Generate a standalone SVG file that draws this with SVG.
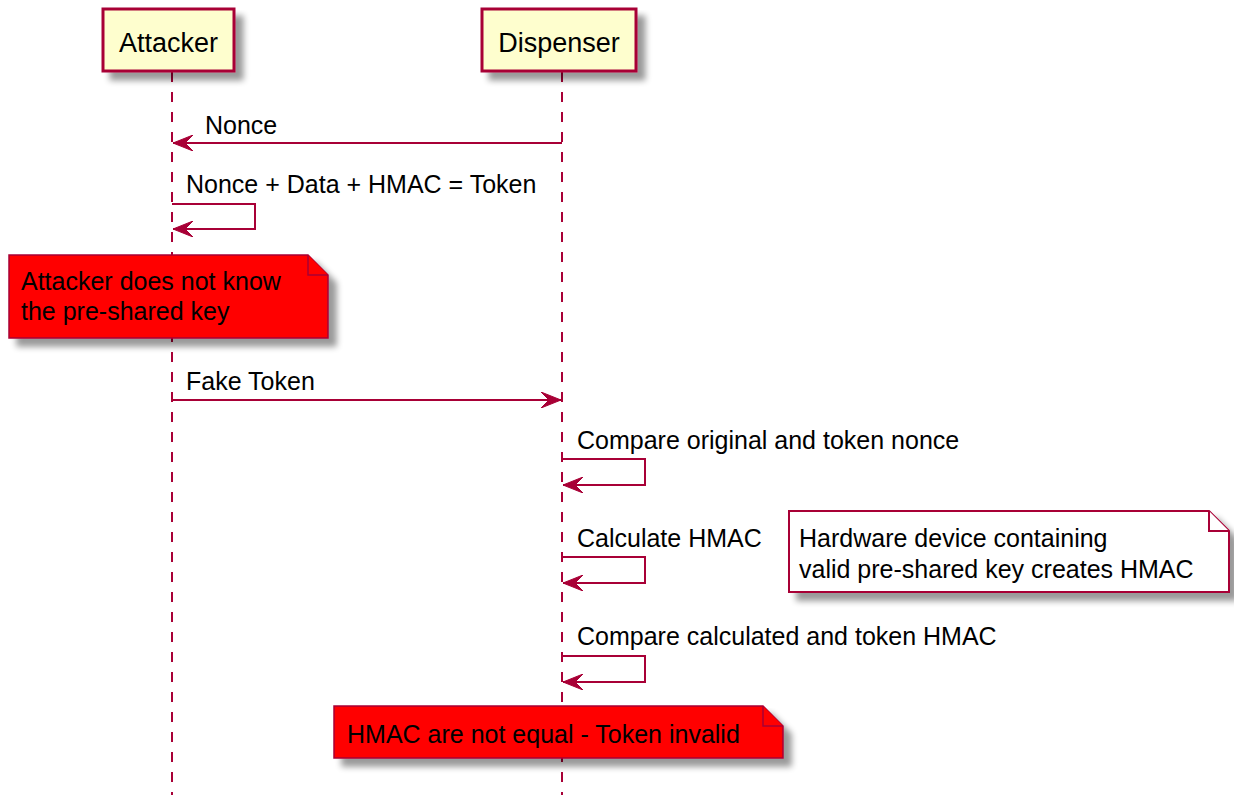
<svg xmlns="http://www.w3.org/2000/svg" width="1234" height="795" viewBox="0 0 1234 795">
<defs>
<filter id="sh" x="-10%" y="-10%" width="130%" height="140%">
<feGaussianBlur in="SourceAlpha" stdDeviation="3"/>
<feOffset dx="8" dy="8" result="b"/>
<feComponentTransfer in="b" result="c"><feFuncA type="linear" slope="0.4"/></feComponentTransfer>
<feMerge><feMergeNode in="c"/><feMergeNode in="SourceGraphic"/></feMerge>
</filter>
<marker id="ah" viewBox="0 0 20 16" refX="20" refY="8" markerWidth="20" markerHeight="16" markerUnits="userSpaceOnUse" orient="auto">
<polygon points="0,0 20,8 0,16 8,8" fill="#A80036" stroke="#A80036" stroke-width="1"/>
</marker>
</defs>
<style>
text{font-family:"Liberation Sans",Arial,sans-serif;fill:#000}
.msg{font-size:25px}
.pt{font-size:27px}
.life{stroke:#A80036;stroke-width:2;stroke-dasharray:10,10;fill:none}
.part{fill:#FEFECE;stroke:#A80036;stroke-width:3}
.arr{stroke:#A80036;stroke-width:2;fill:none;marker-end:url(#ah)}
.note-red{fill:#FF0000;stroke:#A80036;stroke-width:1.5}
.note-white{fill:#FFFFFF;stroke:#A80036;stroke-width:2}
</style>
<rect width="1234" height="795" fill="#FFFFFF"/>
<g id="lifelines">
<line class="life" x1="172" y1="72" x2="172" y2="795"/>
<line class="life" x1="562" y1="72" x2="562" y2="795"/>
</g>
<g id="attacker">
<rect class="part" x="103" y="9" width="131" height="62" filter="url(#sh)"/>
<text class="pt" x="168.5" y="52" text-anchor="middle">Attacker</text>
</g>
<g id="dispenser">
<rect class="part" x="482" y="9" width="154" height="62" filter="url(#sh)"/>
<text class="pt" x="559" y="52" text-anchor="middle">Dispenser</text>
</g>
<g id="connectors">
<line class="arr" x1="562" y1="143" x2="173" y2="143"/>
<text class="msg" x="205" y="134">Nonce</text>
<polyline class="arr" points="172,204 255,204 255,229 173,229"/>
<text class="msg" x="186" y="193">Nonce + Data + HMAC = Token</text>
<line class="arr" x1="172" y1="400" x2="561" y2="400"/>
<text class="msg" x="186" y="390">Fake Token</text>
<polyline class="arr" points="562,459 645,459 645,485 563,485"/>
<text class="msg" x="577" y="449">Compare original and token nonce</text>
<polyline class="arr" points="562,557 645,557 645,583 563,583"/>
<text class="msg" x="577" y="547">Calculate HMAC</text>
<polyline class="arr" points="562,656 645,656 645,682 563,682"/>
<text class="msg" x="577" y="645">Compare calculated and token HMAC</text>
</g>
<g id="note-attacker">
<path class="note-red" d="M9,255 L308,255 L328,275 L328,338 L9,338 Z" filter="url(#sh)"/>
<path class="note-red" d="M308,255 L308,275 L328,275" fill="none"/>
<text class="msg" x="21" y="290">Attacker does not know</text>
<text class="msg" x="21" y="320">the pre-shared key</text>
</g>
<g id="note-hardware">
<path class="note-white" d="M789,511 L1209,511 L1229,531 L1229,592 L789,592 Z" filter="url(#sh)"/>
<path class="note-white" d="M1209,511 L1209,531 L1229,531" fill="none"/>
<text class="msg" x="799" y="547">Hardware device containing</text>
<text class="msg" x="799" y="578">valid pre-shared key creates HMAC</text>
</g>
<g id="note-invalid">
<path class="note-red" d="M334,706 L763,706 L783,726 L783,758 L334,758 Z" filter="url(#sh)"/>
<path class="note-red" d="M763,706 L763,726 L783,726" fill="none"/>
<text class="msg" x="347" y="743">HMAC are not equal - Token invalid</text>
</g>
</svg>
